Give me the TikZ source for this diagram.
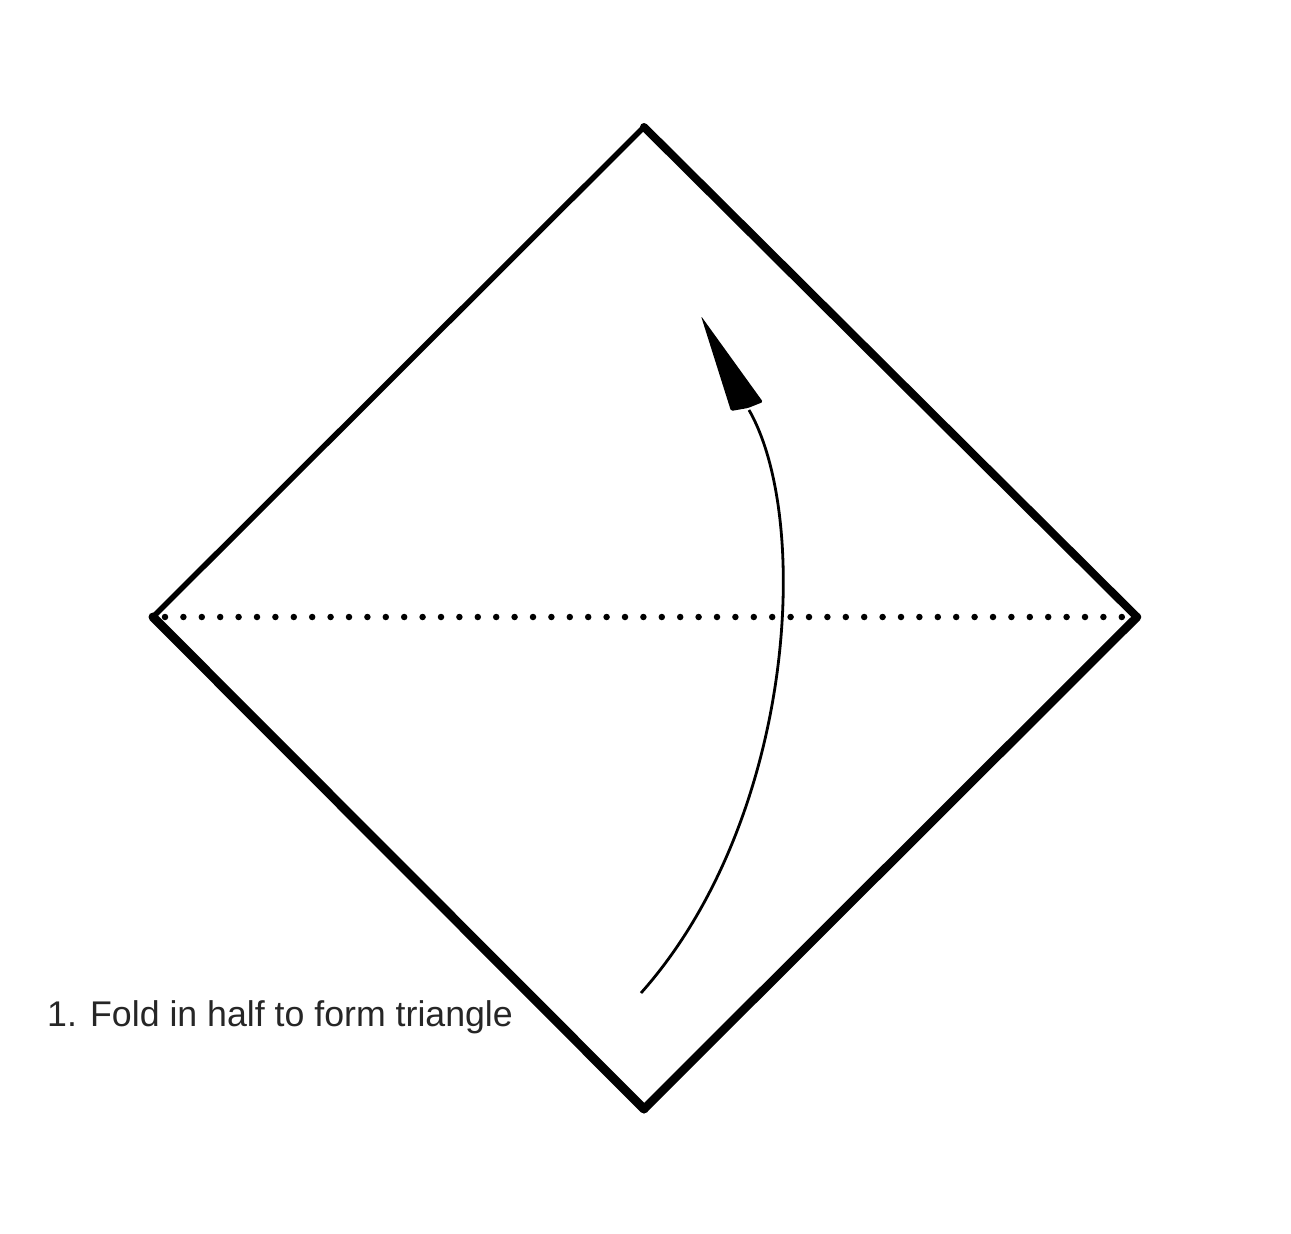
\documentclass[tikz,border=0pt]{standalone}
\usepackage{fontspec}
\setmainfont{Liberation Sans}
\begin{document}
\begin{tikzpicture}[x=1pt,y=-1pt,
  edge/.style={line cap=round,line join=round,black},
  fold/.style={line width=6.5pt,line cap=round,dash pattern=on 0pt off 18.4pt},
  label/.style={anchor=base west,inner sep=0pt,text=black!85,font=\fontsize{35.7}{38}\selectfont}]
\useasboundingbox (0,0) rectangle (1291,1234);
\fill[white] (0,0) rectangle (1291,1234);
\coordinate (T) at (644,127);
\coordinate (R) at (1137,617);
\coordinate (B) at (644,1109);
\coordinate (L) at (153,617);
\draw[edge,line width=5.5pt] (L) -- (T);
\draw[edge,line width=8pt] (T) -- (R);
\draw[edge,line width=8.5pt] (R) -- (B);
\draw[edge,line width=9pt] (B) -- (L);
\coordinate (F1) at (165,617);
\coordinate (F2) at (1127,617);
\draw[fold] (F1) -- (F2);
\coordinate (S) at (641,993);
\coordinate (E) at (749,410);
\draw[line width=2.8pt] (S) .. controls (795,820) and (812,520) .. (E);
\coordinate (H1) at (701,316);
\coordinate (H2) at (763,402);
\coordinate (H3) at (731,411);
\fill[rounded corners=1.5pt] (H1) -- (H2) -- (748,408) -- (H3) -- cycle;
\node[label] (cap) at (47,1026) {1. Fold in half to form triangle};
\end{tikzpicture}
\end{document}
